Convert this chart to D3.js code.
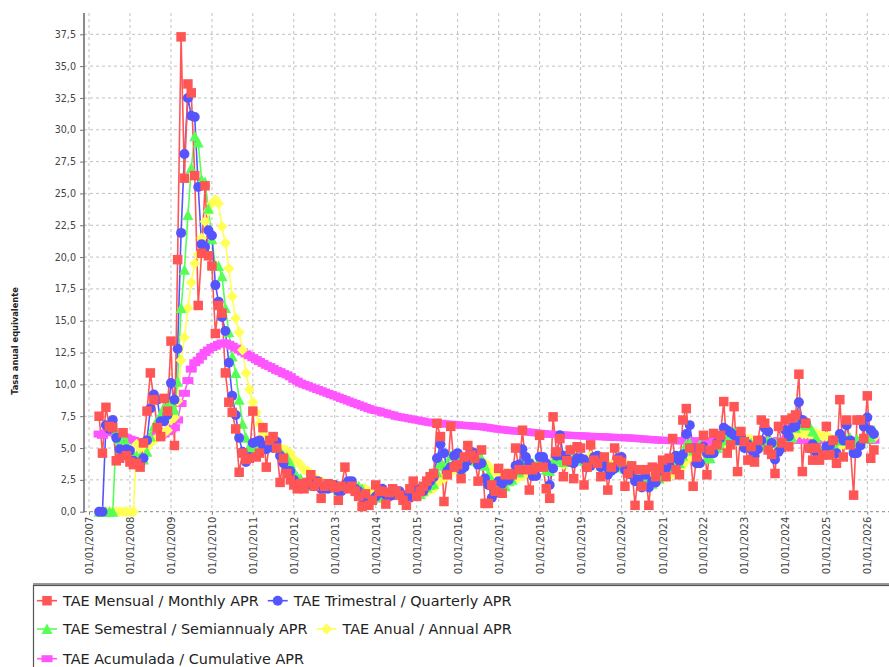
<!DOCTYPE html>
<html>
<head>
<meta charset="utf-8">
<script src="https://cdn.jsdelivr.net/npm/d3@7"></script>
<style>
  body { margin: 0; background: #fff; }
  svg { display: block; font-family: "DejaVu Sans", sans-serif; }
</style>
</head>
<body>
<svg id="chart" width="889" height="667"></svg>
<script>
// first month of every series, one value per month after that
var firstMonth = "2007-04"

// TAE Mensual / Monthly APR
var monthlyAPR = [
  7.5, 4.6, 8.2, 6.7, 6.6, 4.0, 4.2, 6.2, 4.4,                      // 2007
  3.9, 3.7, 3.8, 3.5, 5.4, 7.9, 10.9, 8.8, 6.6, 5.9, 8.9, 7.9,      // 2008
  13.4, 5.2, 19.8, 37.3, 26.2, 33.6, 32.9, 26.4, 16.2, 20.3, 25.6, 20.1,
  19.3, 14.0, 16.2, 15.6, 10.9, 8.6, 7.8, 6.5, 3.1, 4.6, 4.1, 4.2,  // 2010
  7.9, 4.3, 4.6, 6.6, 3.5, 5.6, 5.9, 5.0, 2.3, 4.2, 3.0, 2.5,
  2.1, 1.8, 2.2, 1.8, 2.3, 2.9, 2.0, 2.3, 1.05, 2.0, 2.2, 2.1,      // 2012
  1.9, 0.9, 2.0, 3.5, 1.8, 2.0, 1.6, 1.2, 0.4, 1.4, 0.5, 0.9,
  2.1, 1.6, 1.6, 0.6, 1.5, 1.8, 1.6, 1.3, 0.9, 0.5, 1.8, 2.4,       // 2014
  1.2, 1.6, 2.0, 2.4, 2.75, 3.0, 6.95, 5.9, 0.8, 2.9, 6.7, 3.5,
  3.7, 2.6, 4.3, 5.2, 4.45, 4.2, 2.4, 4.85, 0.65, 0.65, 2.1, 1.6,   // 2016
  3.4, 1.45, 2.9, 3.0, 2.9, 5.0, 3.3, 6.4, 3.3, 1.7, 3.3, 3.5,
  6.0, 3.5, 1.8, 1.05, 7.45, 4.7, 5.75, 2.75, 4.0, 4.85, 2.6, 5.1,  // 2018
  5.0, 2.1, 3.5, 5.25, 4.05, 3.8, 2.75, 4.3, 1.7, 3.5, 5.0, 4.05,
  3.9, 2.0, 3.0, 3.6, 0.5, 3.3, 2.0, 3.3, 0.5, 3.5, 2.75, 3.4,      // 2020
  4.05, 2.75, 4.2, 5.75, 3.3, 2.9, 7.2, 8.1, 5.0, 2.0, 4.3, 5.0,
  6.0, 2.9, 4.85, 6.15, 5.25, 6.0, 8.65, 4.6, 5.25, 8.25, 3.15, 6.3, // 2022
  5.5, 4.05, 5.1, 3.9, 5.6, 7.2, 6.95, 4.85, 4.5, 3.0, 6.7, 5.4,
  7.2, 5.1, 7.35, 7.6, 10.8, 3.15, 6.95, 5.0, 4.05, 5.0, 4.05, 4.45, // 2024
  6.7, 4.45, 5.6, 3.8, 8.8, 4.3, 7.2, 5.25, 1.3, 7.2, 7.2, 5.75,
  9.1, 4.2, 4.85                                                     // 2026
]

// TAE Trimestral / Quarterly APR
var quarterlyAPR = [
  0, 0, 6.8, 6.5, 7.2, 5.8, 4.9, 4.8, 4.9,
  4.8, 4.0, 3.8, 3.7, 4.2, 5.6, 8.1, 9.2, 8.8, 7.1, 7.1, 7.6,
  10.1, 8.8, 12.8, 21.9, 28.1, 32.5, 31.1, 31.0, 25.5, 21.0, 20.8, 22.1,
  21.7, 17.8, 16.5, 15.3, 14.2, 11.7, 9.1, 7.6, 5.8, 4.7, 3.9, 4.3,
  5.4, 5.5, 5.6, 5.2, 4.9, 5.2, 5.0, 5.5, 4.4, 3.8, 3.2, 3.2,
  2.5, 2.1, 2.0, 1.9, 2.1, 2.3, 2.4, 2.4, 1.8, 1.8, 1.8, 2.1,
  2.1, 1.6, 1.6, 2.1, 2.4, 2.4, 1.8, 1.6, 1.1, 1.0, 0.8, 0.9,
  1.2, 1.5, 1.8, 1.3, 1.2, 1.3, 1.6, 1.6, 1.3, 0.9, 1.1, 1.6,
  1.8, 1.7, 1.6, 2.0, 2.4, 2.7, 4.2, 5.3, 4.6, 3.2, 3.5, 4.4,
  4.6, 3.3, 3.5, 4.0, 4.7, 4.6, 3.7, 3.8, 2.6, 2.1, 1.1, 1.5,
  2.4, 2.2, 2.6, 2.5, 2.9, 3.6, 3.7, 4.9, 4.3, 3.8, 2.8, 2.8,
  4.3, 4.3, 3.8, 2.1, 3.4, 4.4, 6.0, 4.4, 4.2, 3.9, 3.8, 4.2,
  4.2, 4.1, 3.5, 3.6, 4.3, 4.4, 3.5, 3.6, 2.9, 3.2, 3.4, 4.2,
  4.3, 3.3, 3.0, 2.9, 2.4, 2.5, 1.9, 2.9, 1.9, 2.4, 2.3, 3.2,
  3.4, 3.4, 3.7, 4.2, 4.4, 4.0, 4.5, 6.1, 6.8, 5.0, 3.8, 3.8,
  5.1, 4.6, 4.6, 4.6, 5.4, 5.8, 6.6, 6.4, 6.2, 6.0, 5.6, 5.9,
  5.0, 5.3, 4.9, 4.4, 4.9, 5.6, 6.6, 6.3, 5.4, 4.1, 4.7, 5.0,
  6.4, 5.9, 6.6, 6.7, 8.6, 7.2, 7.0, 5.0, 5.3, 4.7, 4.4, 4.5,
  5.1, 5.2, 5.6, 4.6, 6.1, 5.6, 6.8, 5.6, 4.6, 4.6, 5.2, 6.7,
  7.4, 6.4, 6.1
]

// TAE Semestral / Semiannualy APR
var semiannualAPR = [
  0, 0, 0, 0, 0, 6.3, 5.7, 6.0, 5.4,
  4.9, 4.4, 4.4, 4.3, 4.1, 4.7, 5.9, 6.7, 7.2, 7.6, 8.2, 8.2,
  8.6, 8.0, 10.2, 16.0, 19.0, 23.3, 27.0, 29.5, 29.0, 26.1, 25.9, 23.8,
  21.4, 19.3, 19.3, 18.5, 16.0, 14.1, 12.2, 10.9, 8.8, 6.9, 5.8, 5.1,
  5.1, 4.7, 5.0, 5.3, 5.2, 5.4, 5.1, 5.2, 4.8, 4.4, 4.3, 3.8,
  3.2, 2.7, 2.6, 2.2, 2.1, 2.2, 2.2, 2.3, 2.1, 2.1, 2.1, 1.9,
  1.9, 1.7, 1.9, 2.1, 2.0, 2.0, 2.0, 2.0, 1.8, 1.4, 1.2, 1.0,
  1.1, 1.2, 1.4, 1.2, 1.4, 1.5, 1.5, 1.4, 1.3, 1.3, 1.3, 1.4,
  1.4, 1.4, 1.6, 1.9, 2.1, 2.2, 3.1, 3.8, 3.6, 3.7, 4.4, 4.5,
  3.9, 3.4, 4.0, 4.3, 4.0, 4.1, 3.9, 4.2, 3.6, 2.9, 2.5, 2.0,
  2.2, 1.6, 2.0, 2.4, 2.5, 3.1, 3.1, 3.9, 4.0, 3.8, 3.8, 3.6,
  4.0, 3.6, 3.3, 3.2, 3.9, 4.1, 4.1, 3.9, 4.3, 4.9, 4.1, 4.2,
  4.1, 4.0, 3.9, 3.9, 4.2, 4.0, 3.6, 4.0, 3.7, 3.4, 3.5, 3.6,
  3.8, 3.4, 3.6, 3.6, 2.9, 2.7, 2.4, 2.6, 2.2, 2.2, 2.6, 2.6,
  2.9, 2.8, 3.5, 3.8, 3.9, 3.8, 4.4, 5.3, 5.4, 4.8, 4.9, 5.3,
  5.1, 4.2, 4.2, 4.9, 5.0, 5.2, 5.6, 5.9, 6.0, 6.3, 6.0, 6.0,
  5.5, 5.4, 5.4, 4.7, 5.1, 5.2, 5.5, 5.6, 5.5, 5.4, 5.5, 5.2,
  5.3, 5.3, 5.8, 6.6, 7.2, 6.9, 6.8, 6.8, 6.3, 5.8, 4.7, 4.9,
  4.9, 4.8, 5.0, 4.9, 5.6, 5.6, 5.7, 5.8, 5.1, 5.7, 5.4, 5.7,
  6.0, 5.8, 6.4
]

// TAE Anual / Annual APR
var annualAPR = [
  0, 0, 0, 0, 0, 0, 0, 0, 0,
  0, 0, 5.3, 5.0, 5.1, 5.0, 5.4, 5.6, 5.8, 5.9, 6.2, 6.4,
  7.2, 7.4, 8.7, 11.9, 13.7, 16.0, 18.0, 19.5, 20.2, 21.5, 22.8, 23.6,
  24.2, 24.5, 24.2, 22.4, 21.1, 19.1, 16.9, 15.2, 14.1, 12.7, 10.9, 9.6,
  8.6, 7.8, 6.9, 6.1, 5.5, 5.2, 5.1, 5.0, 4.9, 4.9, 4.8, 4.6,
  4.1, 3.9, 3.7, 3.3, 3.2, 3.0, 2.7, 2.5, 2.4, 2.2, 2.1, 2.1,
  2.1, 2.0, 2.0, 2.1, 2.1, 2.0, 2.0, 1.9, 1.8, 1.8, 1.6, 1.5,
  1.5, 1.6, 1.6, 1.3, 1.3, 1.3, 1.3, 1.3, 1.3, 1.3, 1.4, 1.5,
  1.4, 1.4, 1.4, 1.6, 1.7, 1.8, 2.2, 2.6, 2.6, 2.8, 3.2, 3.3,
  3.5, 3.6, 3.8, 4.0, 4.2, 4.3, 3.9, 3.8, 3.8, 3.6, 3.2, 3.1,
  3.0, 2.9, 2.8, 2.6, 2.5, 2.6, 2.7, 2.8, 3.0, 3.1, 3.2, 3.4,
  3.6, 3.7, 3.6, 3.5, 3.9, 3.8, 4.1, 3.7, 3.8, 4.1, 4.0, 4.1,
  4.1, 3.9, 4.1, 4.4, 4.1, 4.1, 3.8, 4.0, 3.8, 3.6, 3.8, 3.8,
  3.7, 3.7, 3.6, 3.5, 3.2, 3.1, 3.1, 3.0, 2.9, 2.9, 2.7, 2.7,
  2.7, 2.7, 2.8, 3.0, 3.2, 3.2, 3.6, 4.0, 4.4, 4.3, 4.4, 4.6,
  4.7, 4.7, 4.8, 4.8, 5.0, 5.2, 5.4, 5.1, 5.1, 5.6, 5.5, 5.6,
  5.6, 5.7, 5.7, 5.5, 5.5, 5.6, 5.5, 5.5, 5.5, 5.0, 5.3, 5.2,
  5.4, 5.5, 5.7, 6.0, 6.4, 6.1, 6.1, 6.1, 6.0, 6.2, 6.0, 5.9,
  5.9, 5.8, 5.7, 5.3, 5.2, 5.3, 5.3, 5.3, 5.1, 5.3, 5.5, 5.6,
  5.8, 5.8, 5.8
]

// TAE Acumulada / Cumulative APR
var cumulativeAPR = [
  6.1, 6.0, 6.2, 6.3, 6.3, 6.1, 5.9, 5.9, 5.8,
  5.7, 5.6, 5.5, 5.4, 5.4, 5.5, 5.7, 5.9, 6.0, 6.0, 6.1, 6.3,
  6.5, 6.6, 7.2, 8.5, 9.3, 10.3, 11.2, 11.7, 11.9, 12.2, 12.5, 12.7,
  12.9, 13.0, 13.15, 13.25, 13.25, 13.15, 13.0, 12.85, 12.7, 12.55, 12.4, 12.25,
  12.1, 11.95, 11.8, 11.65, 11.5, 11.4, 11.25, 11.1, 11.0, 10.85, 10.75, 10.6,
  10.4, 10.25, 10.1, 10.0, 9.9, 9.8, 9.7, 9.6, 9.5, 9.4, 9.3, 9.2,
  9.1, 9.0, 8.9, 8.8, 8.7, 8.6, 8.5, 8.4, 8.3, 8.2, 8.1, 8.0,
  7.95, 7.9, 7.8, 7.75, 7.65, 7.6, 7.5, 7.45, 7.4, 7.35, 7.3, 7.25,
  7.2, 7.15, 7.1, 7.05, 7.0, 6.97, 6.95, 6.95, 6.9, 6.88, 6.87, 6.85,
  6.82, 6.8, 6.78, 6.76, 6.74, 6.72, 6.7, 6.68, 6.64, 6.6, 6.56, 6.52,
  6.48, 6.45, 6.42, 6.39, 6.36, 6.34, 6.32, 6.3, 6.28, 6.25, 6.22, 6.19,
  6.16, 6.14, 6.11, 6.08, 6.07, 6.06, 6.05, 6.03, 6.01, 6.0, 5.98, 5.97,
  5.96, 5.95, 5.93, 5.92, 5.91, 5.9, 5.89, 5.88, 5.86, 5.85, 5.84, 5.83,
  5.82, 5.81, 5.8, 5.78, 5.76, 5.74, 5.72, 5.7, 5.68, 5.66, 5.64, 5.62,
  5.61, 5.6, 5.59, 5.58, 5.57, 5.57, 5.57, 5.57, 5.57, 5.56, 5.55, 5.55,
  5.55, 5.55, 5.55, 5.55, 5.55, 5.55, 5.56, 5.56, 5.56, 5.57, 5.57, 5.57,
  5.57, 5.57, 5.57, 5.57, 5.57, 5.58, 5.58, 5.58, 5.58, 5.58, 5.58, 5.58,
  5.58, 5.58, 5.59, 5.59, 5.6, 5.6, 5.6, 5.6, 5.6, 5.6, 5.6, 5.6,
  5.6, 5.6, 5.6, 5.6, 5.6, 5.6, 5.6, 5.6, 5.6, 5.6, 5.6, 5.6,
  5.61, 5.61, 5.61
]

var seriesNames = [
  "TAE Mensual / Monthly APR",
  "TAE Trimestral / Quarterly APR",
  "TAE Semestral / Semiannualy APR",
  "TAE Anual / Annual APR",
  "TAE Acumulada / Cumulative APR"
]
var seriesColors = ["#FF5555", "#5555FF", "#55FF55", "#FFFF55", "#FF55FF"]
var seriesShapes = ["square", "circle", "triangle", "diamond", "rect"]
var seriesValues = [monthlyAPR, quarterlyAPR, semiannualAPR, annualAPR, cumulativeAPR]

var yTicks = d3.range(0, 37.51, 2.5)
var yLabel = "Tasa anual equivalente"

// ---- layout
var svg = d3.select("#chart")
var plotLeft = 84, plotRight = 889, plotTop = 13, plotBottom = 511.7

var start = d3.timeParse("%Y-%m")(firstMonth)
var xScale = d3.scaleTime()
  .domain([new Date(2007, 0, 1), new Date(2026, 0, 1)])
  .range([89, 867.3])
var yScale = d3.scaleLinear().domain([0, 37.5]).range([plotBottom, 34.3])

var series = seriesValues.map(function(vals, s) {
  return {
    name: seriesNames[s],
    color: seriesColors[s],
    shape: seriesShapes[s],
    points: vals.map(function(v, i) {
      return { date: d3.timeMonth.offset(start, i), value: v }
    })
  }
})

// grid
var grid = svg.append("g").attr("class", "grid")
grid.selectAll(".hgrid")
  .data(yTicks.filter(function(d) { return d > 0 }))
  .join("line")
  .attr("x1", plotLeft).attr("x2", plotRight)
  .attr("y1", function(d) { return yScale(d) })
  .attr("y2", function(d) { return yScale(d) })
  .attr("stroke", "#c0c0c0")
  .attr("stroke-dasharray", "3,3")
grid.selectAll(".vgrid")
  .data(xScale.ticks(d3.timeYear.every(1)))
  .join("line")
  .attr("x1", function(d) { return xScale(d) })
  .attr("x2", function(d) { return xScale(d) })
  .attr("y1", plotTop).attr("y2", plotBottom)
  .attr("stroke", "#c0c0c0")
  .attr("stroke-dasharray", "3,3")

// axes
var yAxis = d3.axisLeft(yScale)
  .tickValues(yTicks)
  .tickFormat(function(d) { return d3.format(".1f")(d).replace(".", ",") })
  .tickSize(4)
  .tickPadding(4)
  .tickSizeOuter(0)
var gy = svg.append("g")
  .attr("transform", "translate(" + plotLeft + ",0)")
  .call(yAxis)
gy.select(".domain").remove()
gy.selectAll(".tick line").attr("stroke", "#777")
gy.selectAll(".tick text")
  .attr("fill", "#444")
  .style("font-size", "9.6px")
  .style("font-family", "DejaVu Sans")

var xAxis = d3.axisBottom(xScale)
  .ticks(d3.timeYear.every(1))
  .tickFormat(d3.timeFormat("%d/%m/%Y"))
  .tickSize(3)
  .tickSizeOuter(0)
var gx = svg.append("g")
  .attr("transform", "translate(0," + plotBottom + ")")
  .call(xAxis)
gx.select(".domain").remove()
gx.selectAll(".tick line").attr("stroke", "#777")
gx.selectAll(".tick text")
  .attr("fill", "#444")
  .style("font-size", "10px")
  .style("font-family", "DejaVu Sans")
  .attr("text-anchor", "end")
  .attr("transform", "rotate(-90)")
  .attr("x", -5)
  .attr("y", 0)
  .attr("dy", "0.35em")

svg.append("line")
  .attr("x1", plotLeft).attr("x2", plotRight)
  .attr("y1", plotBottom).attr("y2", plotBottom)
  .attr("stroke", "#888")
  .attr("stroke-dasharray", "3,3")
svg.append("line")
  .attr("x1", plotLeft).attr("x2", plotLeft)
  .attr("y1", plotTop).attr("y2", plotBottom + 0.5)
  .attr("stroke", "#666")
  .attr("stroke-width", 1.5)

svg.append("text")
  .attr("transform", "translate(18," + 341 + ") rotate(-90)")
  .attr("text-anchor", "middle")
  .style("font-size", "8.3px")
  .style("font-weight", "bold")
  .attr("fill", "#222")
  .text(yLabel)

// markers
function shapePath(shape) {
  switch (shape) {
    case "square": return "M-4.75,-4.75h9.5v9.5h-9.5Z"
    case "circle": return "M-5,0a5,5 0 1,0 10,0a5,5 0 1,0 -10,0Z"
    case "triangle": return "M0,-5.5L5.5,5L-5.5,5Z"
    case "diamond": return "M0,-5.5L5.5,0L0,5.5L-5.5,0Z"
    case "rect": return "M-5.5,-3.5h11v7h-11Z"
  }
}

var line = d3.line()
  .x(function(d) { return xScale(d.date) })
  .y(function(d) { return yScale(d.value) })

var drawOrder = series.slice().reverse()
var plot = svg.append("g")

// all lines first, then all shapes (red ends up on top)
plot.selectAll(".series-line")
  .data(drawOrder)
  .join("path")
  .attr("class", "series-line")
  .attr("d", function(d) { return line(d.points) })
  .attr("fill", "none")
  .attr("stroke", function(d) { return d.color })
  .attr("stroke-width", 1.6)
  .attr("stroke-linejoin", "round")

drawOrder.forEach(function(s) {
  plot.append("g")
    .selectAll("path")
    .data(s.points)
    .join("path")
    .attr("d", shapePath(s.shape))
    .attr("transform", function(d) {
      return "translate(" + xScale(d.date) + "," + yScale(d.value) + ")"
    })
    .attr("fill", s.color)
})

// legend
var legend = svg.append("g")
legend.append("rect")
  .attr("x", 33.5).attr("y", 585.5)
  .attr("width", 900).attr("height", 100)
  .attr("fill", "#fff")
  .attr("stroke", "#555")
  .attr("stroke-width", 1.2)
legend.append("line")
  .attr("x1", 33).attr("x2", 889)
  .attr("y1", 584).attr("y2", 584)
  .attr("stroke", "#777")
  .attr("stroke-width", 1.5)

var legendRows = [[0, 1], [2, 3], [4]]
var rowY = [600.7, 629, 658.7]
legendRows.forEach(function(row, r) {
  var cx = 37
  row.forEach(function(idx) {
    var s = series[idx]
    var item = legend.append("g")
    item.append("line")
      .attr("x1", cx).attr("x2", cx + 20)
      .attr("y1", rowY[r]).attr("y2", rowY[r])
      .attr("stroke", s.color)
      .attr("stroke-width", 1.6)
    item.append("path")
      .attr("d", shapePath(s.shape))
      .attr("transform", "translate(" + (cx + 10) + "," + rowY[r] + ")")
      .attr("fill", s.color)
    var t = item.append("text")
      .attr("x", cx + 26)
      .attr("y", rowY[r])
      .attr("dy", "0.35em")
      .style("font-size", "14.4px")
      .attr("fill", "#222")
      .text(s.name)
    cx = cx + 26 + t.node().getComputedTextLength() + 9
  })
})
</script>
</body>
</html>
